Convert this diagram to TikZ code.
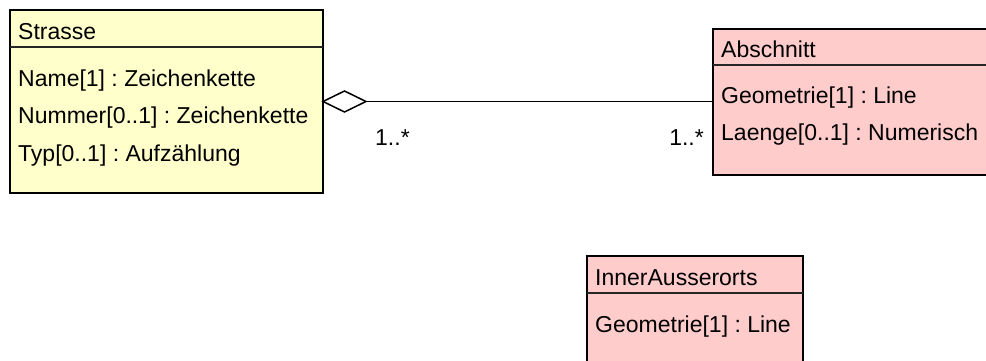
\documentclass[tikz,border=0pt]{standalone}
\usepackage{fontspec}
\setmainfont{Liberation Sans}
\frenchspacing
\definecolor{classyellow}{HTML}{FFFFCC}
\definecolor{classpink}{HTML}{FFCCCC}
\tikzset{
  yellowbox/.style={draw=black, line width=1.6pt, fill=classyellow, rectangle, anchor=north west, inner sep=0pt, outer sep=0pt},
  pinkbox/.style={draw=black, line width=1.6pt, fill=classpink, rectangle, anchor=north west, inner sep=0pt, outer sep=0pt},
  sep/.style={draw=black!85, line width=1.1pt},
  txt/.style={anchor=base west, inner sep=0pt, font=\fontsize{23}{23}\selectfont},
  conn/.style={draw=black, line width=1.5pt},
}
\begin{document}
\begin{tikzpicture}[x=1pt,y=-1pt]
\useasboundingbox (0,0) rectangle (986,361);
\clip (0,0) rectangle (986,361);
\fill[white] (0,0) rectangle (986,361);
% Strasse
\node[yellowbox, minimum width=313pt, minimum height=183pt] (strasse) at (10,10) {};
\draw[sep] (10,47) -- (323,47);
\node[txt] (s0) at (18,40) {Strasse};
\node[txt] (s1) at (18,87) {Name[1] : Zeichenkette};
\node[txt] (s2) at (18,124) {Nummer[0..1] : Zeichenkette};
\node[txt] (s3) at (18,161) {Typ[0..1] : Aufzählung};
% Abschnitt
\node[pinkbox, minimum width=290pt, minimum height=146pt] (abschnitt) at (713,29) {};
\draw[sep] (713,65) -- (1003,65);
\node[txt] (a0) at (721,58) {Abschnitt};
\node[txt] (a1) at (721,103) {Geometrie[1] : Line};
\node[txt] (a2) at (721,140) {Laenge[0..1] : Numerisch};
% InnerAusserorts
\node[pinkbox, minimum width=216pt, minimum height=130pt] (inner) at (587,256) {};
\draw[sep] (587,293) -- (803,293);
\node[txt] (i0) at (595,285) {InnerAusserorts};
\node[txt] (i1) at (595,332) {Geometrie[1] : Line};
% Aggregation
\coordinate (dtip) at ([xshift=43pt]strasse.east);
\draw[conn, fill=white] (strasse.east) -- ++(21.5,-10.5) -- (dtip) -- ++(-21.5,10.5) -- cycle;
\draw[conn] (dtip) -- (dtip -| abschnitt.west);
\node[txt] (m1) at (375,145) {1..*};
\node[txt, anchor=base east] (m2) at (704,145) {1..*};
\end{tikzpicture}
\end{document}
